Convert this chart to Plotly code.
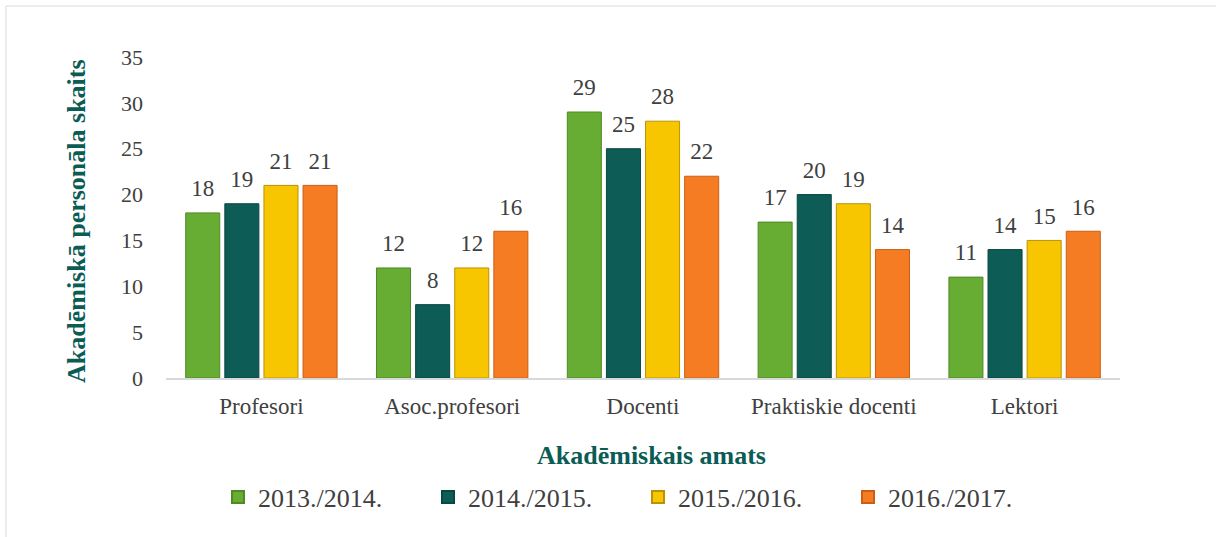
import plotly.graph_objects as go

categories = ["Profesori", "Asoc.profesori", "Docenti", "Praktiskie docenti", "Lektori"]
series_names = ["2013./2014.", "2014./2015.", "2015./2016.", "2016./2017."]
v_2013 = [18, 12, 29, 17, 11]
v_2014 = [19, 8, 25, 20, 14]
v_2015 = [21, 12, 28, 19, 15]
v_2016 = [21, 16, 22, 14, 16]
values = [v_2013, v_2014, v_2015, v_2016]
colors = ["#67ad33", "#0d5c55", "#f7c600", "#f57c22"]
line_colors = ["#4f8a25", "#094741", "#b89400", "#c95f14"]

W, H = 1216, 537
L, R, T, B = 166, 96, 57, 159
pw = W - L - R
ph = H - T - B

FONT = "Liberation Serif, Times New Roman, serif"
TXT = "#404040"
TEAL = "#0b5c55"
GAP = 0.18

fig = go.Figure()
for i, (name, vals, c, lc) in enumerate(zip(series_names, values, colors, line_colors)):
    fig.add_trace(go.Bar(
        x=categories, y=vals, name=name, offsetgroup=str(i),
        marker=dict(color=c, line=dict(color=lc, width=1)),
    ))
for i, vals in enumerate(values):
    fig.add_trace(go.Scatter(
        x=categories, y=vals, mode="markers+text", offsetgroup=str(i),
        text=[str(v) for v in vals], textposition="top center",
        textfont=dict(family=FONT, size=23, color=TXT),
        marker=dict(size=16, color="rgba(0,0,0,0)"),
        showlegend=False, hoverinfo="skip", cliponaxis=False,
    ))

def px_x(p):
    return (p - L) / pw

def px_y(p):
    return (H - B - p) / ph

fig.update_layout(
    width=W, height=H,
    margin=dict(l=L, r=R, t=T, b=B),
    paper_bgcolor="white", plot_bgcolor="white",
    barmode="group", bargap=GAP, bargroupgap=0.13,
    scattermode="group", scattergap=GAP,
    font=dict(family=FONT, size=18, color=TXT),
    showlegend=True,
    legend=dict(
        orientation="h", x=px_x(218), xanchor="left",
        y=px_y(497), yanchor="middle",
        font=dict(family=FONT, size=26, color=TXT),
        entrywidth=165, entrywidthmode="pixels",
        itemsizing="constant",
    ),
    xaxis=dict(
        showgrid=False, showline=True, linecolor="#d9d9d9", linewidth=2,
        ticks="", tickfont=dict(family=FONT, size=23, color=TXT),
        zeroline=False, ticklabelstandoff=6,
    ),
    yaxis=dict(
        range=[0, 35], dtick=5, showgrid=False, showline=False, zeroline=False,
        ticks="", tickfont=dict(family=FONT, size=22, color=TXT),
        ticklabelstandoff=22,
    ),
    shapes=[dict(
        type="rect", xref="paper", yref="paper",
        x0=px_x(6), x1=px_x(1230), y0=px_y(560), y1=px_y(6),
        line=dict(color="#d9d9d9", width=1), fillcolor="rgba(0,0,0,0)",
        layer="below",
    )],
    annotations=[
        dict(text="<b>Akadēmiskā personāla skaits</b>", textangle=-90,
             xref="paper", yref="paper", x=px_x(76), y=px_y(221),
             xanchor="center", yanchor="middle", showarrow=False,
             font=dict(family=FONT, size=26, color=TEAL)),
        dict(text="<b>Akadēmiskais amats</b>",
             xref="paper", yref="paper", x=px_x(651), y=px_y(455),
             xanchor="center", yanchor="middle", showarrow=False,
             font=dict(family=FONT, size=26, color=TEAL)),
    ],
)

fig.write_html("out.html", config={"displayModeBar": False},
               post_script="document.body.style.margin='0';")
